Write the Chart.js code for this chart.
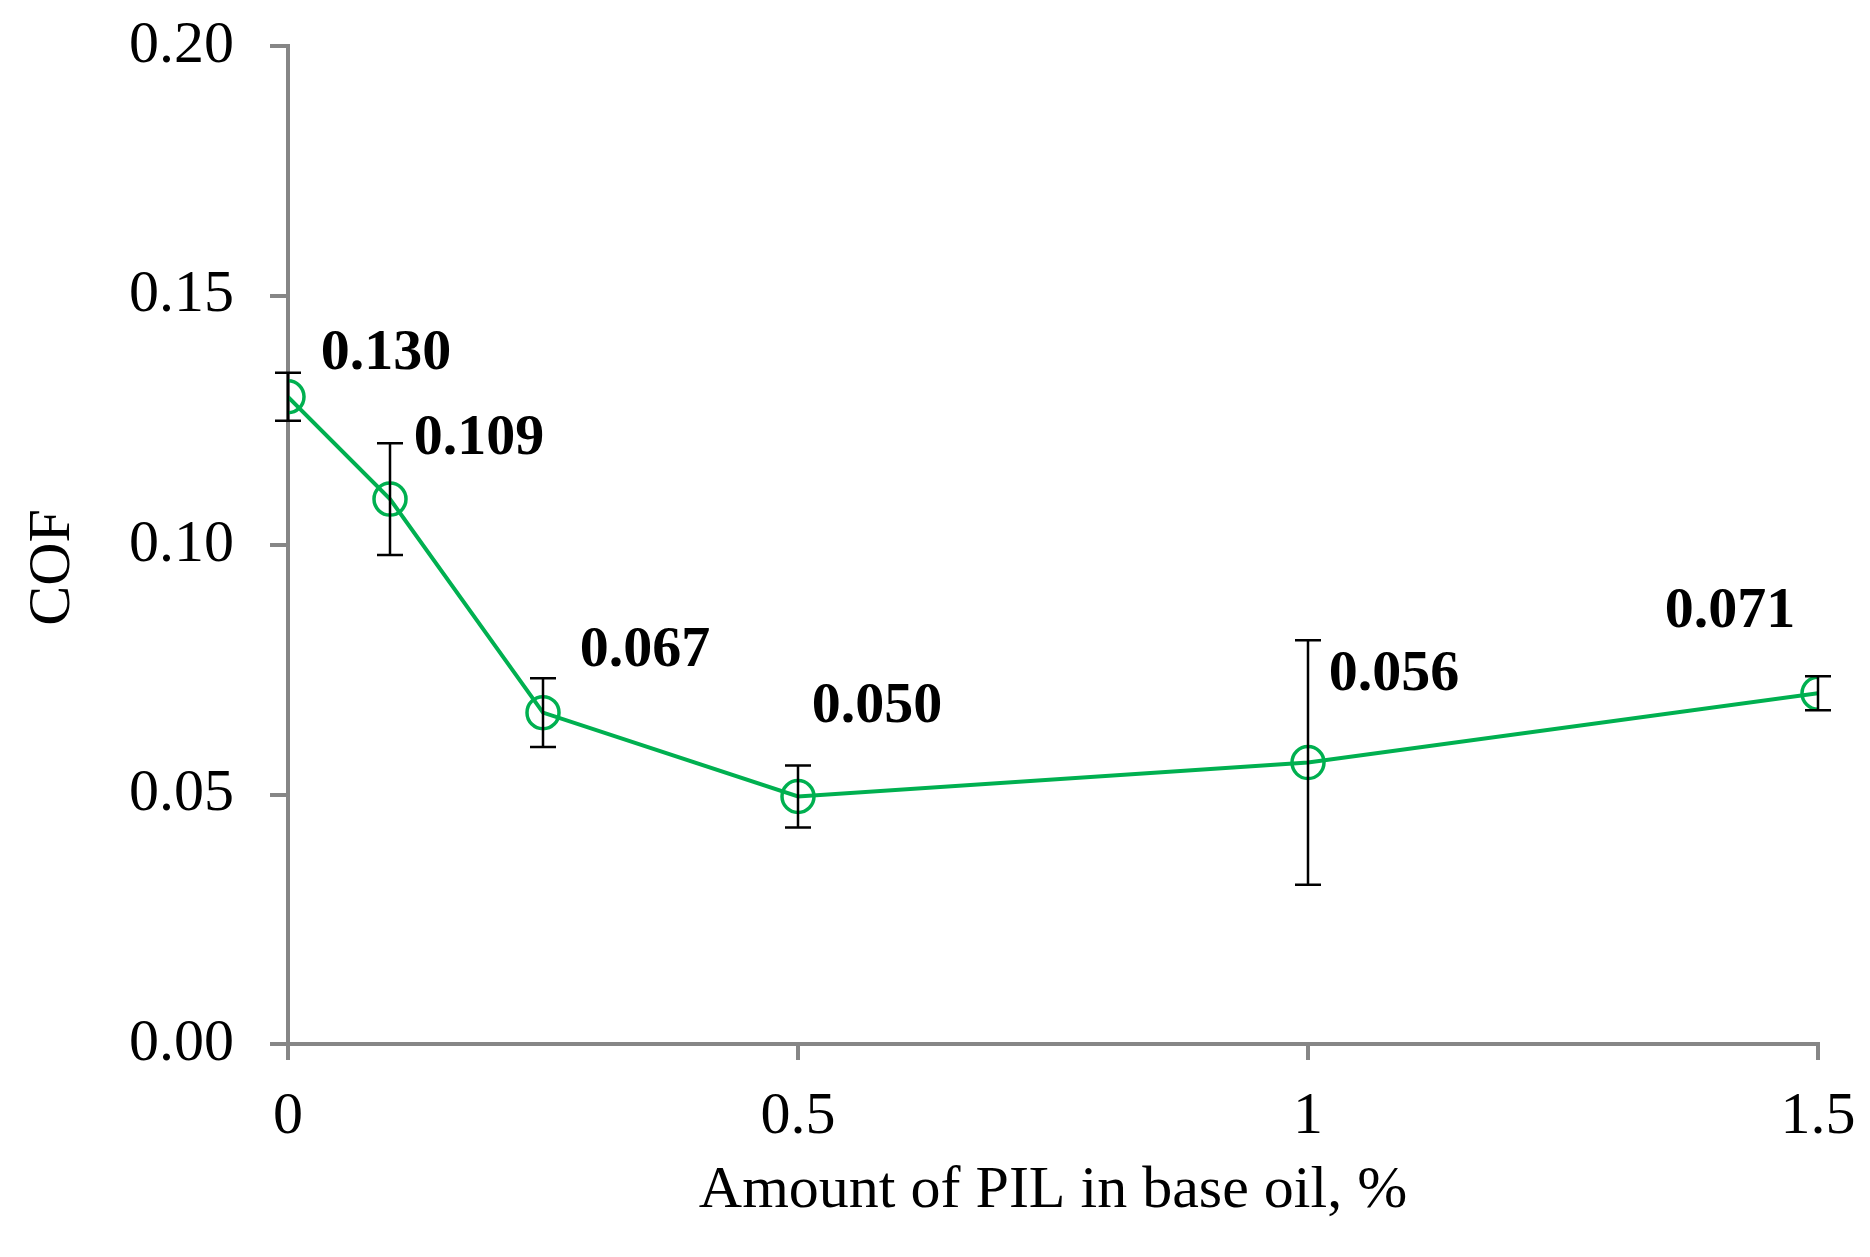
<!DOCTYPE html>
<html>
<head>
<meta charset="utf-8">
<script src="https://cdn.jsdelivr.net/npm/chart.js@4.4.0/dist/chart.umd.min.js"></script>
<style>
  html, body { margin: 0; padding: 0; background: #fff; }
  #wrap { width: 1870px; height: 1257px; }
</style>
</head>
<body>
<div id="wrap"><canvas id="cof" width="1870" height="1257"></canvas></div>
<script>
// PIL content in base oil (%) and friction coefficient
const pilAmount = [0, 0.1, 0.25, 0.5, 1, 1.5];
const cofValues = [0.1297, 0.1092, 0.0664, 0.0496, 0.0564, 0.0703];
const cofErrors = [0.0048, 0.0112, 0.0069, 0.0062, 0.0245, 0.0034];
const pointLabels = ['0.130', '0.109', '0.067', '0.050', '0.056', '0.071'];
const xTickLabels = ['0', '0.5', '1', '1.5'];
const yTickLabels = ['0.00', '0.05', '0.10', '0.15', '0.20'];

const FONT = '"Liberation Serif", "Times New Roman", serif';
const AXIS_GREY = '#868686';
const GREEN = '#00b050';

// where each value label sits relative to its point (px)
const labelOffsets = [[98, -43], [89, -60], [102, -62], [79, -89], [86, -88], [-88, -81]];

const errorBars = {
  id: 'errorBars',
  afterDatasetsDraw(chart) {
    const c = chart.ctx, xs = chart.scales.x, ys = chart.scales.y;
    c.save();
    c.strokeStyle = '#000';
    c.lineWidth = 2.5;
    pilAmount.forEach((x, i) => {
      const px = xs.getPixelForValue(x);
      const top = ys.getPixelForValue(cofValues[i] + cofErrors[i]);
      const bot = ys.getPixelForValue(cofValues[i] - cofErrors[i]);
      c.beginPath();
      c.moveTo(px, top); c.lineTo(px, bot);
      c.moveTo(px - 13, top); c.lineTo(px + 13, top);
      c.moveTo(px - 13, bot); c.lineTo(px + 13, bot);
      c.stroke();
    });
    // value labels
    c.fillStyle = '#000';
    c.font = 'bold 58px ' + FONT;
    c.textAlign = 'center';
    c.textBaseline = 'middle';
    pilAmount.forEach((x, i) => {
      const px = xs.getPixelForValue(x);
      const py = ys.getPixelForValue(cofValues[i]);
      c.fillText(pointLabels[i], px + labelOffsets[i][0], py + labelOffsets[i][1]);
    });
    c.restore();
  }
};

new Chart(document.getElementById('cof').getContext('2d'), {
  type: 'line',
  data: {
    datasets: [{
      label: 'COF',
      data: pilAmount.map((x, i) => ({ x: x, y: cofValues[i] })),
      borderColor: GREEN,
      borderWidth: 4,
      pointRadius: 16,
      pointBorderWidth: 3.5,
      pointBorderColor: GREEN,
      pointBackgroundColor: 'rgba(0,0,0,0)',
      tension: 0,
      fill: false
    }]
  },
  options: {
    responsive: false,
    animation: false,
    devicePixelRatio: 1,
    layout: { padding: { top: 46, right: 52, left: 0, bottom: 0 } },
    plugins: { legend: { display: false }, tooltip: { enabled: false } },
    scales: {
      x: {
        type: 'linear',
        min: 0, max: 1.5,
        afterBuildTicks(s) { s.ticks = xTickLabels.map(t => ({ value: parseFloat(t) })); },
        afterFit(s) { s.height = 213; s.paddingLeft = 0; s.paddingRight = 0; },
        ticks: {
          callback: (v, i) => xTickLabels[i],
          color: '#000',
          font: { family: FONT, size: 60 },
          padding: 21,
          maxRotation: 0
        },
        grid: { drawOnChartArea: false, drawTicks: true, tickLength: 16, color: AXIS_GREY, lineWidth: 4 },
        border: { display: true, color: AXIS_GREY, width: 4 },
        title: {
          display: true,
          text: 'Amount of PIL in base oil, %',
          color: '#000',
          font: { family: FONT, size: 60 },
          padding: { top: 0, bottom: 30 }
        }
      },
      y: {
        min: 0, max: 0.2,
        afterBuildTicks(s) { s.ticks = yTickLabels.map(t => ({ value: parseFloat(t) })); },
        afterFit(s) { s.width = 288; s.paddingTop = 0; s.paddingBottom = 0; },
        ticks: {
          callback: (v, i) => yTickLabels[i],
          color: '#000',
          font: { family: FONT, size: 60 },
          padding: 36
        },
        grid: { drawOnChartArea: false, drawTicks: true, tickLength: 18, color: AXIS_GREY, lineWidth: 4 },
        border: { display: true, color: AXIS_GREY, width: 4 },
        title: {
          display: true,
          text: 'COF\u2002 ',
          color: '#000',
          font: { family: FONT, size: 60 },
          padding: { top: 17, bottom: 0 }
        }
      }
    }
  },
  plugins: [errorBars]
});
</script>
</body>
</html>
